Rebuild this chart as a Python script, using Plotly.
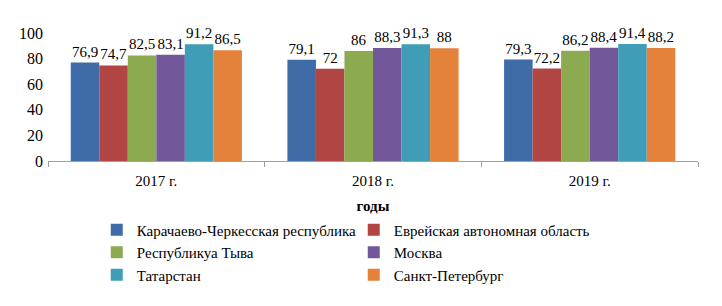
import plotly.graph_objects as go

years = ["2017 г.", "2018 г.", "2019 г."]
regions = ["Карачаево-Черкесская республика", "Еврейская автономная область",
           "Республикуа Тыва", "Москва", "Татарстан", "Санкт-Петербург"]
values = {
    "Карачаево-Черкесская республика": [76.9, 79.1, 79.3],
    "Еврейская автономная область": [74.7, 72, 72.2],
    "Республикуа Тыва": [82.5, 86, 86.2],
    "Москва": [83.1, 88.3, 88.4],
    "Татарстан": [91.2, 91.3, 91.4],
    "Санкт-Петербург": [86.5, 88, 88.2],
}
colors = ["#3F6BA6", "#B04544", "#8CAA50", "#72589A", "#3F9DB8", "#E4823C"]
yticks = [0, 20, 40, 60, 80, 100]

font = "serif"

def fmt(v):
    return ("%g" % v).replace(".", ",")

fig = go.Figure()
for name, c in zip(regions, colors):
    vals = values[name]
    fig.add_trace(go.Bar(
        x=years, y=vals, name=name, marker=dict(color=c, line=dict(width=0)),
        text=[fmt(v) for v in vals], textposition="outside",
        textfont=dict(family=font, size=15, color="#000"),
        constraintext="none", cliponaxis=False,
    ))

fig.update_layout(
    width=714, height=298,
    margin=dict(l=40, r=24, t=25, b=145, autoexpand=False),
    paper_bgcolor="white", plot_bgcolor="white",
    barmode="group", bargap=0.21, bargroupgap=0,
    font=dict(family=font, size=15, color="#000"),
    showlegend=True,
    legend=dict(orientation="h", x=0.075, xanchor="left", y=-0.41, yanchor="top",
                entrywidth=212, entrywidthmode="pixels",
                font=dict(family=font, size=15, color="#000"),
                itemwidth=30, traceorder="normal"),
    xaxis=dict(showline=True, linecolor="#A0A0A0", linewidth=1, automargin=False,
               ticks="outside", tickson="boundaries", ticklen=5, tickcolor="#A0A0A0",
               ticklabelstandoff=6,
               tickfont=dict(family=font, size=15),
               title=dict(text="<b>годы</b>", font=dict(family=font, size=15), standoff=12)),
    yaxis=dict(range=[0, 100], tickvals=yticks, showgrid=False, showline=False,
               zeroline=False, ticks="", automargin=False, ticklabelstandoff=4,
               tickfont=dict(family=font, size=16)),
)

fig.write_html("out.html")
